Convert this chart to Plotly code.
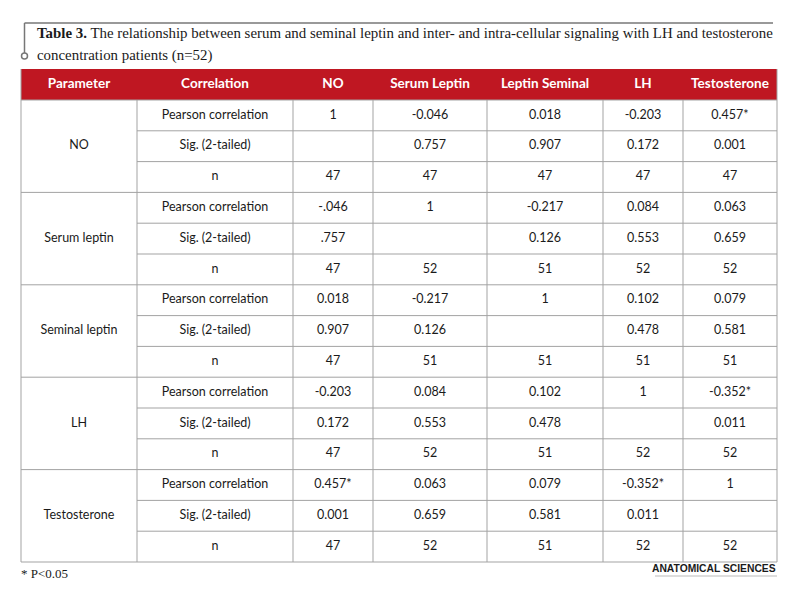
import plotly.graph_objects as go

# table content
parameters = ["NO", "Serum leptin", "Seminal leptin", "LH", "Testosterone"]
statistics = ["Pearson correlation", "Sig. (2-tailed)", "n"]
headers = ["Parameter", "Correlation", "NO", "Serum Leptin", "Leptin Seminal", "LH", "Testosterone"]

no_vals = [["1", "-0.046", "0.018", "-0.203", "0.457*"],
           ["", "0.757", "0.907", "0.172", "0.001"],
           ["47", "47", "47", "47", "47"]]
serum_vals = [["-.046", "1", "-0.217", "0.084", "0.063"],
              [".757", "", "0.126", "0.553", "0.659"],
              ["47", "52", "51", "52", "52"]]
seminal_vals = [["0.018", "-0.217", "1", "0.102", "0.079"],
                ["0.907", "0.126", "", "0.478", "0.581"],
                ["47", "51", "51", "51", "51"]]
lh_vals = [["-0.203", "0.084", "0.102", "1", "-0.352*"],
           ["0.172", "0.553", "0.478", "", "0.011"],
           ["47", "52", "51", "52", "52"]]
testo_vals = [["0.457*", "0.063", "0.079", "-0.352*", "1"],
              ["0.001", "0.659", "0.581", "0.011", ""],
              ["47", "52", "51", "52", "52"]]

title_bold = "Table 3."
title_rest = " The relationship between serum and seminal leptin and inter- and intra-cellular signaling with LH and testosterone"
title_line2 = "concentration patients (n=52)"
footnote = "* P<0.05"
brand = "ANATOMICAL SCIENCES"

# layout (pixel grid of the page; the page body has an 8px margin)
OFF = 8
col_edges = [21, 137, 293, 373, 487, 603, 683, 777]
head_top, head_bot = 69, 100
row_h = (562 - head_bot) / 15
RED = "#BF1722"
GRID = "#A3A3A3"
CELL_FONT = dict(family="Lato, Open Sans, sans-serif", size=12.5, color="#1a1a1a")

blocks = [no_vals, serum_vals, seminal_vals, lh_vals, testo_vals]

fig = go.Figure()
shapes = []

# header background
shapes.append(dict(type="rect", x0=col_edges[0], x1=col_edges[-1], y0=head_top, y1=head_bot,
                   fillcolor=RED, line=dict(width=0), layer="below"))

centers = [(col_edges[i] + col_edges[i + 1]) / 2 for i in range(len(col_edges) - 1)]

# header text
fig.add_trace(go.Scatter(x=centers, y=[(head_top + head_bot) / 2] * len(headers), mode="text",
                         text=["<b>%s</b>" % h for h in headers],
                         textfont=dict(family="Lato, Open Sans, sans-serif", size=13.5, color="white"),
                         hoverinfo="skip"))

# body text
xs, ys, ts = [], [], []
for g, (name, block) in enumerate(zip(parameters, blocks)):
    top = head_bot + g * 3 * row_h
    xs.append(centers[0]); ys.append(top + 1.5 * row_h); ts.append(name)
    for r, stat in enumerate(statistics):
        yc = top + (r + 0.5) * row_h
        xs.append(centers[1]); ys.append(yc); ts.append(stat)
        for c, v in enumerate(block[r]):
            xs.append(centers[2 + c]); ys.append(yc); ts.append(v)
fig.add_trace(go.Scatter(x=xs, y=ys, mode="text", text=ts, textfont=CELL_FONT, hoverinfo="skip"))

# grid lines
bottom = head_bot + 15 * row_h
for i, x in enumerate(col_edges):
    shapes.append(dict(type="line", x0=x, x1=x, y0=head_bot if 0 < i < len(col_edges) - 1 else head_top,
                       y1=bottom, line=dict(color=GRID, width=1)))
for k in range(16):
    y = head_bot + k * row_h
    x0 = col_edges[0] if k % 3 == 0 else col_edges[1]
    shapes.append(dict(type="line", x0=x0, x1=col_edges[-1], y0=y, y1=y, line=dict(color=GRID, width=1)))

# title bracket
shapes.append(dict(type="line", x0=24.5, x1=773, y0=23, y1=23, line=dict(color="#777777", width=1.5)))
shapes.append(dict(type="line", x0=24.5, x1=24.5, y0=23, y1=53, line=dict(color="#777777", width=1.5)))
shapes.append(dict(type="circle", x0=21.5, x1=27.5, y0=53, y1=59, fillcolor="white",
                   line=dict(color="#777777", width=1.5)))
# underline under brand
shapes.append(dict(type="line", x0=655, x1=777, y0=576, y1=576, line=dict(color="#bbbbbb", width=1)))

serif = dict(family="Liberation Serif, serif", size=14.9, color="#1a1a1a")
annotations = [
    dict(x=35, y=33, text="<b>%s</b>%s" % (title_bold, title_rest), showarrow=False,
         xanchor="left", yanchor="middle", font=serif),
    dict(x=35, y=55, text=title_line2, showarrow=False, xanchor="left", yanchor="middle", font=serif),
    dict(x=19, y=573, text=footnote, showarrow=False, xanchor="left", yanchor="middle",
         font=dict(family="Liberation Serif, serif", size=13, color="#1a1a1a")),
    dict(x=778, y=568, text="<b>%s</b>" % brand, showarrow=False, xanchor="right", yanchor="middle",
         font=dict(family="Liberation Sans Narrow, Liberation Sans, sans-serif", size=10.3, color="#1a1a1a")),
]

fig.update_layout(width=800 - OFF, height=597 - OFF, margin=dict(l=0, r=0, t=0, b=0),
                  plot_bgcolor="white", paper_bgcolor="white", showlegend=False,
                  shapes=shapes, annotations=annotations,
                  xaxis=dict(range=[OFF, 800], visible=False, fixedrange=True),
                  yaxis=dict(range=[597, OFF], visible=False, fixedrange=True))

fig.write_html("out.html")
